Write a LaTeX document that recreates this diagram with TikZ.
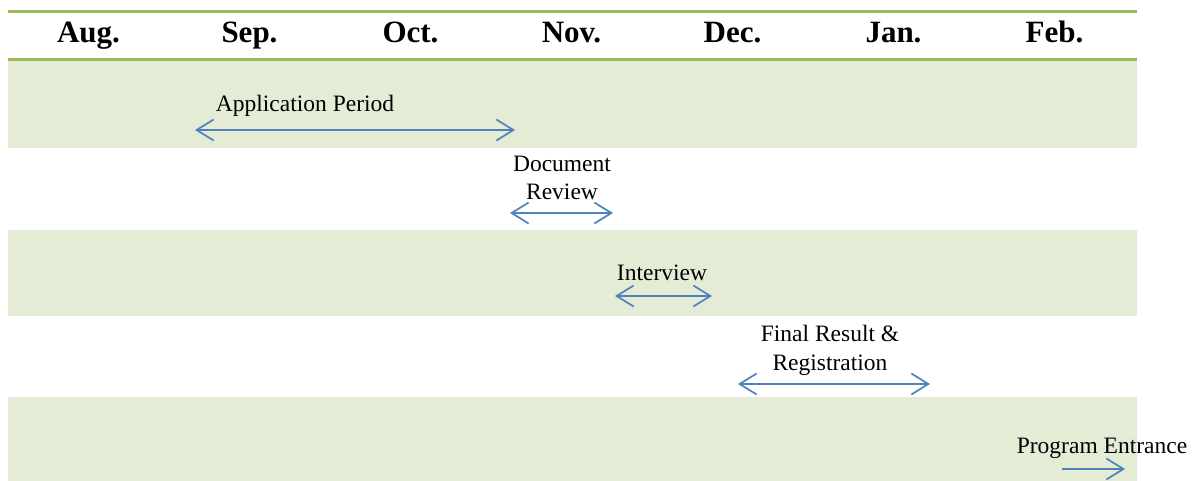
\documentclass[tikz,border=0pt]{standalone}
\usepackage{fontspec}
\setmainfont{Liberation Serif}
\usetikzlibrary{arrows.meta}

\definecolor{bandgreen}{RGB}{228,236,214}
\definecolor{rulegreen}{RGB}{155,187,89}
\definecolor{arrowblue}{RGB}{79,129,189}

\begin{document}
\begin{tikzpicture}[x=1pt,y=-1pt,
  month node/.style={anchor=base,inner sep=0pt,font=\fontsize{31}{36}\selectfont\bfseries},
  task node/.style={anchor=base,inner sep=0pt,align=center,font=\fontsize{23.5}{28.5}\selectfont},
  barb/.tip={Straight Barb[length=17pt,width=21pt]},
  period/.style={draw=arrowblue,line width=1.7pt,barb-barb},
  entry/.style={draw=arrowblue,line width=1.7pt,-barb}]

  \useasboundingbox (0,0) rectangle (1200,481);

  % bands and rules
  \foreach \top/\bot in {61/148,230/316,397/481}
    \fill[bandgreen] (8,\top) rectangle (1137,\bot);
  \draw[rulegreen,line width=3pt] (8,12) -- (1137,12);
  \draw[rulegreen,line width=3pt] (8,60) -- (1137,60);

  % months
  \foreach \m [count=\i] in {Aug.,Sep.,Oct.,Nov.,Dec.,Jan.,Feb.}
    \node[month node] (m\i) at (88.5+161*\i-161,43) {\m};

  % stages (base = last line)
  \node[task node] (apply) at (305,112) {Application Period};
  \node[task node] (review) at (562,200) {Document\\Review};
  \node[task node] (interview) at (662,280) {Interview};
  \node[task node] (result) at (830,370) {Final Result \&\\Registration};
  \node[task node] (entrance) at (1102,453) {Program Entrance};

  \coordinate (apply-s) at (195,130);
  \coordinate (apply-e) at (515,130);
  \coordinate (review-s) at (510,213);
  \coordinate (review-e) at (613,213);
  \coordinate (interview-s) at (615,296);
  \coordinate (interview-e) at (712,296);
  \coordinate (result-s) at (738,384);
  \coordinate (result-e) at (930,384);
  \coordinate (entrance-s) at (1062,469);
  \coordinate (entrance-e) at (1125,469);

  \path
    (apply-s) edge[period] (apply-e)
    (review-s) edge[period] (review-e)
    (interview-s) edge[period] (interview-e)
    (result-s) edge[period] (result-e)
    (entrance-s) edge[entry] (entrance-e);
\end{tikzpicture}
\end{document}
